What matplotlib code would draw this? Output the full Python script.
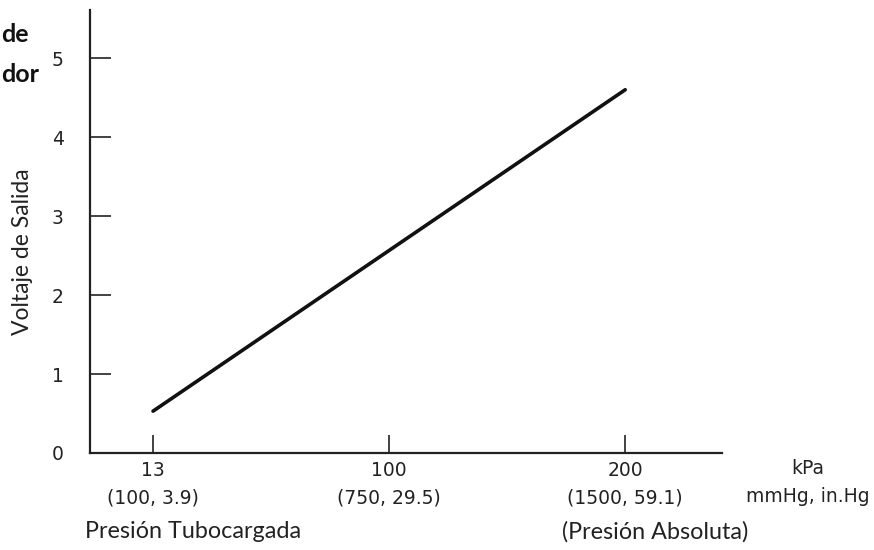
import matplotlib
matplotlib.use('Agg')
import matplotlib.pyplot as plt
import matplotlib.transforms as mtransforms

# x axis is drawn at evenly spaced positions, labelled in kPa
kpa_labels = ['13', '100', '200']
mmhg_labels = ['(100, 3.9)', '(750, 29.5)', '(1500, 59.1)']
tick_pos = [0, 1, 2]

# sensor output line (start at 13 kPa, end at 200 kPa)
line_x = [0, 2]
line_volts = [0.53, 4.6]

y_ticks = [0, 1, 2, 3, 4, 5]

W, H = 874, 550
fig = plt.figure(figsize=(W / 100, H / 100), dpi=100)
ax = fig.add_axes([90 / W, 1 - 453 / H, (722 - 90) / W, (453 - 10) / H])

ink = '#222222'
num_font = 'DejaVu Sans'
ax.plot(line_x, line_volts, color='#111111', lw=2.6, solid_capstyle='round')

ax.set_xlim(-0.267, 2.41)
ax.set_ylim(0, 5.61)

for s in ['top', 'right']:
    ax.spines[s].set_visible(False)
for s in ['left', 'bottom']:
    ax.spines[s].set_color(ink)
    ax.spines[s].set_linewidth(1.6)

ax.set_yticks(y_ticks)
ax.set_yticklabels([str(v) for v in y_ticks], fontsize=13.5, family=num_font, color=ink)
ax.set_xticks(tick_pos)
ax.set_xticklabels(kpa_labels, fontsize=13.5, family=num_font, color=ink)
ax.tick_params(axis='y', direction='in', length=15, width=1.2, color=ink, pad=19)
ax.tick_params(axis='x', direction='in', length=13, width=1.2, color=ink, pad=6)

ax.set_ylabel('Voltaje de Salida', fontsize=16.5, family='Lato', color=ink)
ax.yaxis.set_label_coords(23 / W, 1 - 252 / H, transform=fig.transFigure)
ax.yaxis.label.set_va('center')

# second row of x labels
trans = mtransforms.blended_transform_factory(ax.transData, fig.transFigure)
for p, lab in zip(tick_pos, mmhg_labels):
    ax.text(p, 1 - 498 / H, lab, transform=trans, ha='center', va='center',
            fontsize=13.5, family=num_font, color=ink)

fig.text(808 / W, 1 - 468 / H, 'kPa', ha='center', va='center', fontsize=13.5,
         family=num_font, color=ink)
fig.text(808 / W, 1 - 497 / H, 'mmHg, in.Hg', ha='center', va='center', fontsize=13.5,
         family=num_font, color=ink)
fig.text(85 / W, 1 - 531 / H, 'Presión Tubocargada', ha='left', va='center', fontsize=16.8,
         family='Lato', color=ink)
fig.text(748 / W, 1 - 532 / H, '(Presión Absoluta)', ha='right', va='center', fontsize=16.8,
         family='Lato', color=ink)

# title fragments at the top left
fig.text(1 / W, 1 - 35 / H, 'de', ha='left', va='center', fontsize=18,
         family='Lato', weight='bold', color='#111111')
fig.text(1 / W, 1 - 74 / H, 'dor', ha='left', va='center', fontsize=18,
         family='Lato', weight='bold', color='#111111')

fig.savefig('out.png', dpi=100)
